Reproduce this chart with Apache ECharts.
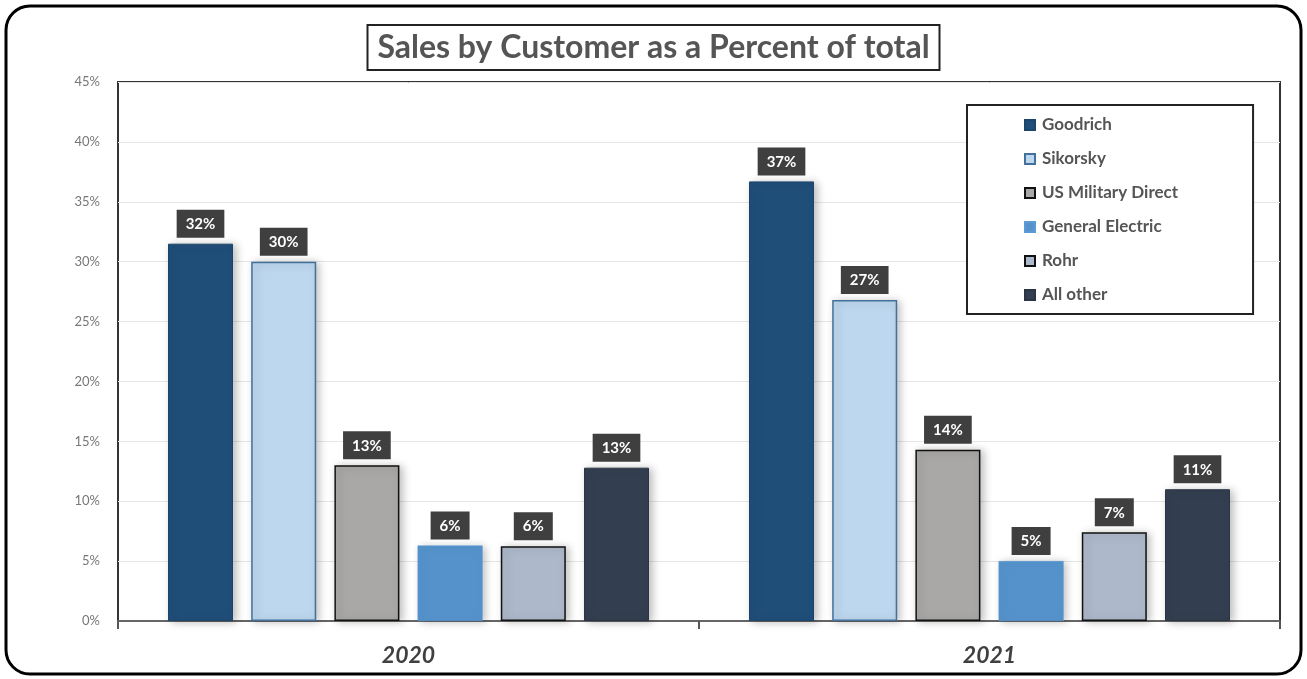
<!DOCTYPE html>
<html>
<head>
<meta charset="utf-8">
<script src="https://cdn.jsdelivr.net/npm/echarts@6/dist/echarts.min.js"></script>
<style>html,body{margin:0;padding:0;background:#fff}#c{width:1307px;height:679px}</style>
</head>
<body>
<div id="c"></div>
<script>
const categories = ['2020', '2021'];
const seriesNames = ['Goodrich', 'Sikorsky', 'US Military Direct', 'General Electric', 'Rohr', 'All other'];
const goodrich = [31.5, 36.7];
const sikorsky = [30.0, 26.8];
const usMilitary = [13.0, 14.3];
const generalElectric = [6.3, 5.0];
const rohr = [6.25, 7.4];
const allOther = [12.8, 11.0];
const yTicks = [0, 5, 10, 15, 20, 25, 30, 35, 40, 45];

const values = [goodrich, sikorsky, usMilitary, generalElectric, rohr, allOther];
const fills = ['#1F4E79', '#BDD7EE', '#A9A8A6', '#5592CB', '#ADB9CA', '#333F50'];
const borders = ['#1B456B', '#41719C', '#111111', '#5B9BD5', '#111111', '#2A3444'];
const bw = [1, 1.5, 1.5, 0.5, 1.5, 1];

const chart = echarts.init(document.getElementById('c'));
chart.setOption({
  backgroundColor: '#fff',
  animation: false,
  title: {
    text: 'Sales by Customer as a Percent of total',
    left: 'center',
    top: 25,
    padding: [4, 10, 4, 10],
    borderColor: '#222',
    borderWidth: 2,
    textStyle: { fontFamily: 'Lato', fontWeight: 'bold', fontSize: 32, color: '#555', lineHeight: 37 }
  },
  legend: {
    orient: 'vertical',
    left: 967,
    top: 105,
    padding: [11, 75, 10, 57],
    itemGap: 16,
    itemWidth: 10,
    itemHeight: 10,
    icon: 'rect',
    backgroundColor: '#fff',
    borderColor: '#222',
    borderWidth: 2,
    data: seriesNames,
    textStyle: { fontFamily: 'Lato', fontWeight: 'bold', fontSize: 17, color: '#555', lineHeight: 18, padding: [0, 0, 0, 2] }
  },
  grid: {
    left: 118, right: 27, top: 82, bottom: 58,
    show: true, borderColor: '#333', borderWidth: 2, backgroundColor: 'transparent'
  },
  xAxis: {
    type: 'category',
    data: categories,
    axisLine: { lineStyle: { color: '#666', width: 2 } },
    axisTick: { show: true, length: 8, lineStyle: { color: '#555', width: 2 } },
    axisLabel: { margin: 23, fontFamily: 'Lato', fontStyle: 'italic', fontWeight: 'bold', fontSize: 23, color: '#404040' }
  },
  yAxis: {
    type: 'value',
    min: 0, max: 45, interval: 5,
    axisLine: { show: false },
    axisTick: { show: false },
    splitLine: { lineStyle: { color: '#E6E6E6', width: 1 } },
    axisLabel: {
      margin: 18, fontFamily: 'Lato', fontSize: 13, color: '#777',
      formatter: v => (yTicks.indexOf(v) >= 0 ? v + '%' : '')
    }
  },
  series: seriesNames.map((name, i) => ({
    name: name,
    type: 'bar',
    data: values[i],
    barWidth: 65,
    barGap: '28%',
    itemStyle: {
      color: fills[i], borderColor: borders[i], borderWidth: bw[i],
      shadowBlur: 8, shadowColor: 'rgba(0,0,0,0.25)', shadowOffsetX: 3, shadowOffsetY: 1
    },
    label: {
      show: true,
      position: 'top',
      distance: 6,
      formatter: p => Math.round(p.value) + '%',
      backgroundColor: '#3F3F3F',
      color: '#fff',
      fontFamily: 'Lato',
      fontWeight: 'bold',
      fontSize: 15,
      padding: [7, 9, 6, 9]
    }
  })),
  graphic: [{
    type: 'rect',
    shape: { x: 6, y: 6, width: 1295, height: 668, r: 24 },
    style: { fill: 'none', stroke: '#000', lineWidth: 3 },
    silent: true
  }]
});
</script>
</body>
</html>
